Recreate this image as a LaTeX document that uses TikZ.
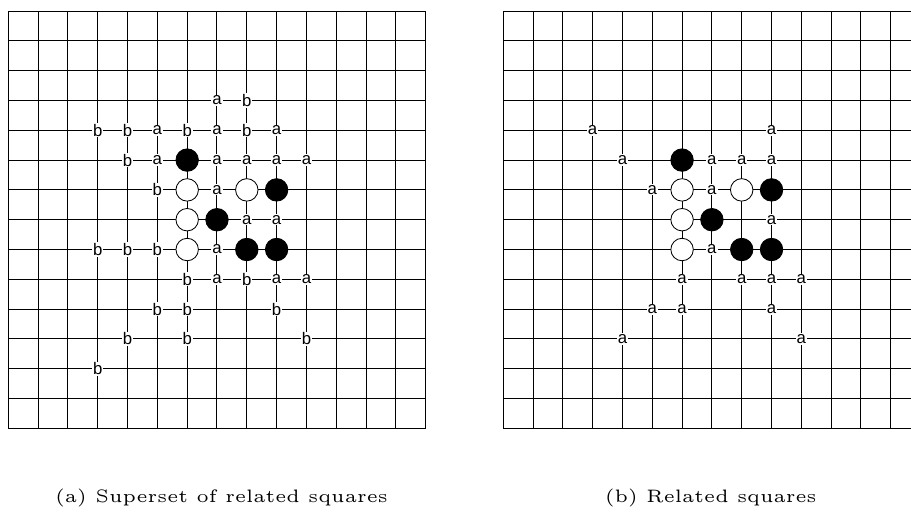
\documentclass[tikz,border=0pt]{standalone}
\usepackage{fontspec}
\usepackage{graphicx}
\newfontfamily\markfont{Liberation Sans}
\begin{document}
\begin{tikzpicture}[x={(0cm,-0.625cm)},y={(0.625cm,0cm)},every node/.style={outer sep=0pt},
  blackstone/.style={circle, draw, fill=black, line width=0.5pt, inner sep=0pt, minimum size=13.4pt},
  whitestone/.style={circle, draw, fill=white, line width=0.5pt, inner sep=0pt, minimum size=13.4pt},
  sqlabel/.style={fill=white, inner sep=0.6pt, font={\markfont\fontsize{10}{12}\selectfont}},
  board/.style={line width=0.6pt}]
\useasboundingbox (-0.369,-0.278) rectangle (16.905,30.278);

% (a) superset
\foreach \i in {0,...,14} {
  \draw[board] (\i,0) -- (\i,14);
  \draw[board] (0,\i) -- (14,\i);
}
\node[blackstone] (L-5-6) at (5,6) {};
\node[blackstone] (L-6-9) at (6,9) {};
\node[blackstone] (L-7-7) at (7,7) {};
\node[blackstone] (L-8-8) at (8,8) {};
\node[blackstone] (L-8-9) at (8,9) {};
\node[whitestone] (L-6-6) at (6,6) {};
\node[whitestone] (L-6-8) at (6,8) {};
\node[whitestone] (L-7-6) at (7,6) {};
\node[whitestone] (L-8-6) at (8,6) {};
\foreach \r/\c in {3/7,4/5,4/7,4/9,5/5,5/7,5/8,5/9,5/10,6/7,7/8,7/9,8/7,9/7,9/9,9/10}
  \node[sqlabel] (La-\r-\c) at (\r,\c) {a};
\foreach \r/\c in {3/8,4/3,4/4,4/6,4/8,5/4,6/5,8/3,8/4,8/5,9/6,9/8,10/5,10/6,10/9,11/4,11/6,11/10,12/3}
  \node[sqlabel] (Lb-\r-\c) at (\r,\c) {b};
\node[anchor=base] (capa) at (16.49,7.15) {\scalebox{2.15}{\fontsize{5}{6}\selectfont (a) Superset of related squares}};

% (b) related
\begin{scope}[shift={(0,16.6)}]
\foreach \i in {0,...,14} {
  \draw[board] (\i,0) -- (\i,14);
  \draw[board] (0,\i) -- (14,\i);
}
\node[blackstone] (R-5-6) at (5,6) {};
\node[blackstone] (R-6-9) at (6,9) {};
\node[blackstone] (R-7-7) at (7,7) {};
\node[blackstone] (R-8-8) at (8,8) {};
\node[blackstone] (R-8-9) at (8,9) {};
\node[whitestone] (R-6-6) at (6,6) {};
\node[whitestone] (R-6-8) at (6,8) {};
\node[whitestone] (R-7-6) at (7,6) {};
\node[whitestone] (R-8-6) at (8,6) {};
\foreach \r/\c in {4/3,4/9,5/4,5/7,5/8,5/9,6/5,6/7,7/9,8/7,9/6,9/8,9/9,9/10,10/5,10/6,10/9,11/4,11/10}
  \node[sqlabel] (Ra-\r-\c) at (\r,\c) {a};
\node[anchor=base] (capb) at (16.49,6.96) {\scalebox{2.15}{\fontsize{5}{6}\selectfont (b) Related squares}};
\end{scope}
\end{tikzpicture}
\end{document}
